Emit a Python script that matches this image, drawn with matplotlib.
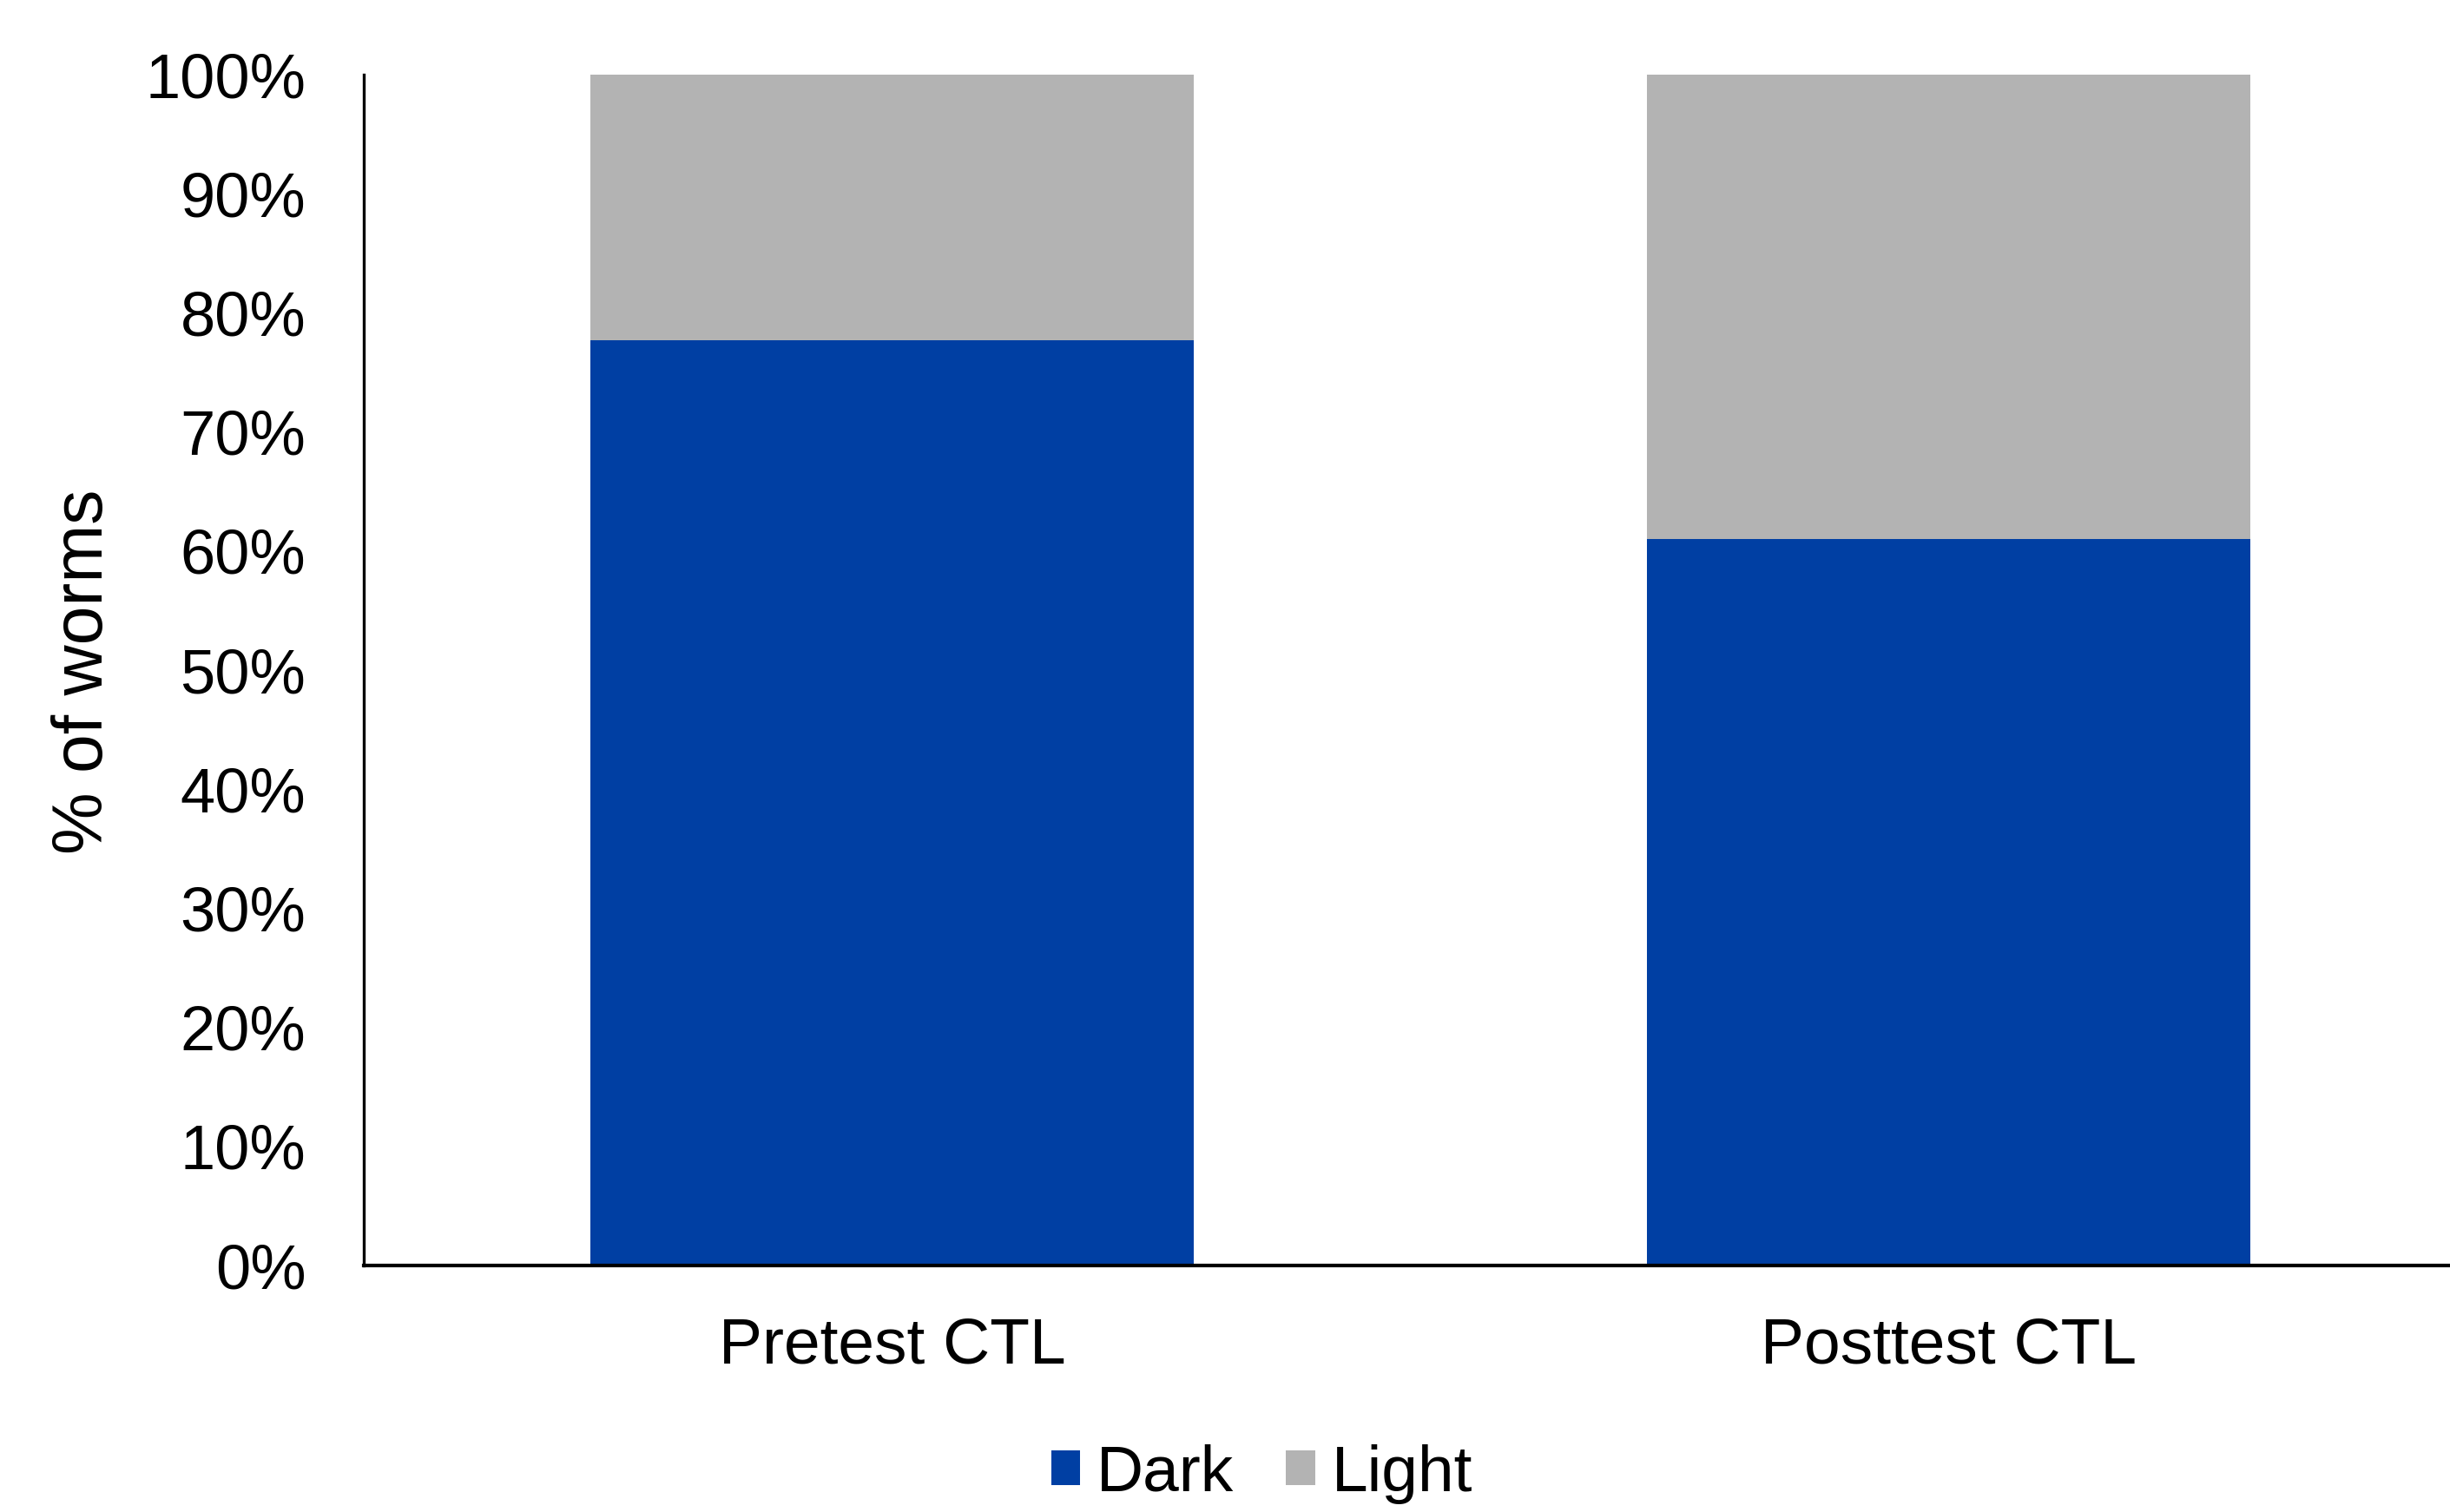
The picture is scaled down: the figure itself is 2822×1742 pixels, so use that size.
import matplotlib.pyplot as plt
from matplotlib.ticker import PercentFormatter

categories = ['Pretest CTL', 'Posttest CTL']
dark = [77.7, 61.0]
light = [22.3, 39.0]
series_names = ['Dark', 'Light']
colors = ['#003FA3', '#B3B3B3']

plt.rcParams['font.family'] = ['Liberation Sans', 'DejaVu Sans']

fig = plt.figure(figsize=(14.11, 8.71), dpi=200)
ax = fig.add_axes([0.1485, 0.163, 1.011 - 0.1485, 0.9506 - 0.163])

pos = [0.5, 1.5]
ax.bar(pos, dark, width=0.571, color=colors[0], label=series_names[0])
ax.bar(pos, light, width=0.571, bottom=dark, color=colors[1], label=series_names[1])

ax.set_xlim(0, 2)
ax.set_ylim(0, 100)
ax.set_yticks(range(0, 101, 10))
ax.yaxis.set_major_formatter(PercentFormatter(decimals=0))
ax.set_xticks(pos)
ax.set_xticklabels(categories)
ax.tick_params(axis='y', length=0, pad=24, labelsize=26)
ax.tick_params(axis='x', length=0, pad=21, labelsize=27)

for s in ['top', 'right']:
    ax.spines[s].set_visible(False)
ax.spines['left'].set_linewidth(1.2)
ax.spines['bottom'].set_linewidth(1.5)

fig.text(97 / 2822, 0.556, '% of worms', rotation=90, ha='center', va='center', fontsize=29)

fig.legend(loc='center', bbox_to_anchor=(0.515, 0.025), ncol=2, frameon=False,
           fontsize=27, handlelength=0.45, handleheight=0.45, handletextpad=0.25,
           columnspacing=0.8, borderpad=0.1)

fig.savefig('out.png', dpi=200)
